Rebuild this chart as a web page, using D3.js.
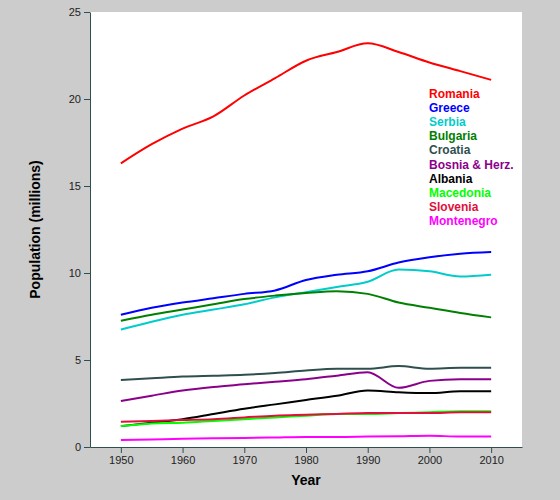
<!DOCTYPE html>
<html><head><meta charset="utf-8">
<script src="https://cdn.jsdelivr.net/npm/d3@7"></script>
<style>body{margin:0;background:#ccc;font-family:Arial,"Liberation Sans",sans-serif}</style>
</head><body><div id="chart"></div>
<script>
var years = [1950,1955,1960,1965,1970,1975,1980,1985,1990,1995,2000,2005,2010];
var countries = ["Romania","Greece","Serbia","Bulgaria","Croatia","Bosnia & Herz.","Albania","Macedonia","Slovenia","Montenegro"];
var colors = ["#ff0000","#0000ff","#00cccc","#008000","#2f4f4f","#8b008b","#000000","#00ff00","#e0103c","#ff00ff"];
var romania = [16.3,17.4,18.3,19.0,20.2,21.2,22.2,22.7,23.2,22.7,22.1,21.6,21.1];
var greece = [7.6,8.0,8.3,8.55,8.8,9.0,9.6,9.9,10.1,10.6,10.9,11.1,11.2];
var serbia = [6.75,7.2,7.6,7.9,8.2,8.6,8.9,9.2,9.5,10.2,10.1,9.8,9.9];
var bulgaria = [7.25,7.6,7.9,8.2,8.5,8.7,8.85,8.95,8.8,8.3,8.0,7.7,7.45];
var croatia = [3.85,3.95,4.05,4.1,4.15,4.25,4.4,4.5,4.5,4.65,4.5,4.55,4.55];
var bosnia = [2.65,2.95,3.25,3.45,3.6,3.75,3.9,4.1,4.3,3.4,3.8,3.9,3.9];
var albania = [1.2,1.4,1.6,1.9,2.2,2.45,2.7,2.95,3.25,3.15,3.1,3.2,3.2];
var macedonia = [1.2,1.35,1.4,1.5,1.6,1.7,1.8,1.9,1.9,1.95,2.0,2.05,2.05];
var slovenia = [1.45,1.5,1.55,1.6,1.7,1.8,1.85,1.9,1.95,1.95,1.95,2.0,2.0];
var montenegro = [0.4,0.43,0.47,0.5,0.52,0.55,0.58,0.58,0.6,0.62,0.65,0.6,0.6];
var series = [romania,greece,serbia,bulgaria,croatia,bosnia,albania,macedonia,slovenia,montenegro];

var W = 560, H = 500;
var margin = {top: 12, right: 38, bottom: 53, left: 90};
var svg = d3.select("#chart").append("svg").attr("width", W).attr("height", H);
svg.append("rect").attr("x", margin.left).attr("y", margin.top)
  .attr("width", W - margin.left - margin.right).attr("height", H - margin.top - margin.bottom)
  .attr("fill", "white");

var x = d3.scaleLinear().domain([1945, 2015]).range([margin.left, W - margin.right]);
var y = d3.scaleLinear().domain([0, 25]).range([H - margin.bottom, margin.top]);

var axisColor = "#2f4f4f";
var gx = svg.append("g").attr("transform", "translate(0," + (H - margin.bottom) + ")")
  .call(d3.axisBottom(x).tickValues(d3.range(1950, 2011, 10)).tickFormat(d3.format("d")).tickSizeOuter(0));
var gy = svg.append("g").attr("transform", "translate(" + margin.left + ",0)")
  .call(d3.axisLeft(y).ticks(5).tickSizeOuter(0));
[gx, gy].forEach(function (g) {
  g.selectAll("path,line").attr("stroke", axisColor);
  g.selectAll("text").attr("fill", "#222").style("font-size", "11px").style("font-family", "Arial");
});

var line = d3.line().x(function (d, i) { return x(years[i]); }).y(function (d) { return y(d); })
  .curve(d3.curveMonotoneX);
series.forEach(function (s, i) {
  svg.append("path").attr("d", line(s)).attr("fill", "none")
    .attr("stroke", colors[i]).attr("stroke-width", 2);
});

// legend
countries.forEach(function (c, i) {
  svg.append("text").attr("x", 429).attr("y", 98 + i * 14.1).text(c)
    .attr("fill", colors[i]).style("font-size", "12px").style("font-weight", "bold");
});

svg.append("text").attr("x", (margin.left + W - margin.right) / 2).attr("y", 485)
  .attr("text-anchor", "middle").style("font-size", "14px").style("font-weight", "bold").text("Year");
svg.append("text").attr("transform", "translate(40," + ((margin.top + H - margin.bottom) / 2) + ") rotate(-90)")
  .attr("text-anchor", "middle").style("font-size", "14px").style("font-weight", "bold").text("Population (millions)");
</script></body></html>
